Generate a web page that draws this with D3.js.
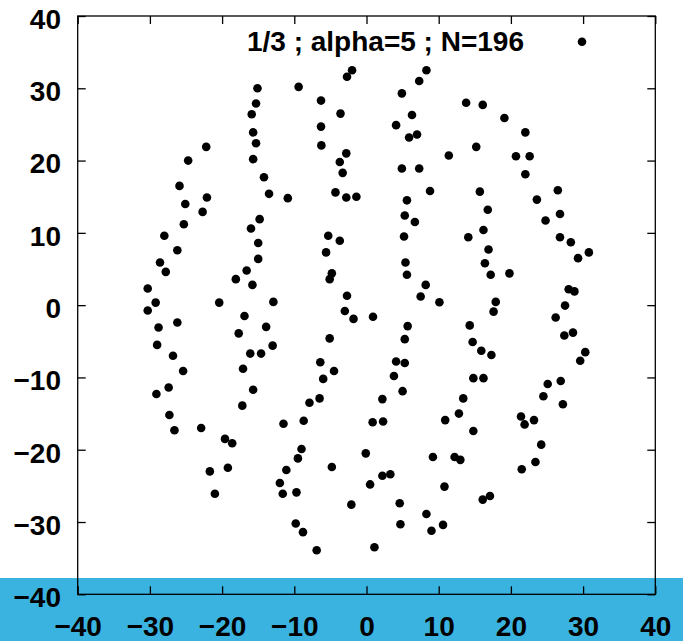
<!DOCTYPE html>
<html>
<head>
<meta charset="utf-8">
<script src="https://cdn.jsdelivr.net/npm/d3@7"></script>
<style>
  html, body { margin: 0; padding: 0; background: #ffffff; }
  svg { display: block; }
  text { font-family: "Liberation Sans", Arial, sans-serif; font-weight: bold; font-size: 28px; fill: #000; }
</style>
</head>
<body>
<svg id="chart" width="683" height="641"></svg>
<script>
// ---- data ----
const legendLabel = "1/3 ; alpha=5 ; N=196";
const xTicks = [-40, -30, -20, -10, 0, 10, 20, 30, 40];
const yTicks = [-40, -30, -20, -10, 0, 10, 20, 30, 40];
const pointsX = [
  -15.1,-15.3,-15.9,-15.7,-15.3,-15.7,-22.2,-24.7,-25.9,-22.1,
  -14.2,-13.5,-10.9,-9.4,-6.3,-6.3,-6.25,-3.6,-2.7,-2.0,
  -2.8,-3.7,-3.3,-4.3,-2.8,-1.4,4.9,7.3,8.3,6.3,
  4.1,5.9,7.0,4.9,7.3,8.8,5.6,13.8,16.1,19.1,
  22.0,11.4,15.2,20.7,22.6,22.0,15.7,26.5,23.6,
  -25.1,-22.7,-25.3,-28.0,-26.2,-28.6,-27.8,-30.3,-29.2,-30.3,
  -20.4,-28.8,-26.2,-29.0,-26.8,-25.4,-14.8,-16.0,-15.0,-15.0,
  -16.6,-18.1,-15.8,-16.9,-17.7,-16.1,-14.6,-17.1,-12.9,-13.9,
  -13.0,-5.3,-3.7,-5.6,-4.8,-5.1,-2.7,-3.0,-1.8,0.9,
  -5.1,-6.4,-4.5,-6.0,5.3,6.7,5.2,5.4,5.6,8.2,
  7.5,10.1,5.7,5.3,4.1,5.3,3.8,16.8,16.2,14.1,
  16.9,16.4,17.2,19.8,17.9,17.6,14.3,14.7,15.9,17.3,
  14.8,16.2,26.8,24.8,26.8,28.3,30.8,29.3,28.0,28.8,
  27.5,26.2,27.4,28.6,30.3,29.6,26.9,
  -29.1,-27.4,-15.7,-17.2,-27.3,-26.6,-22.9,-19.6,-18.6,-21.7,
  -19.2,-21.0,-6.5,-7.9,-11.5,-8.7,-9.0,-9.5,-11.1,-12.0,
  -11.6,-9.7,-4.8,-9.8,-8.8,-6.9,-2.1,-0.1,0.5,2.2,
  3.3,0.85,2.3,2.2,5.0,1.1,4.6,4.7,8.3,9.0,
  9.2,13.4,12.8,10.9,14.8,12.2,13.0,10.8,10.6,16.1,
  17.1,25.1,24.5,27.2,21.4,21.9,23.2,24.2,23.4,21.5
];
const pointsY = [
  30.0,27.9,26.4,23.9,22.4,20.2,21.9,20.0,16.5,14.9,
  17.7,15.4,14.8,30.2,28.3,24.7,22.1,26.5,31.6,32.5,
  21.0,19.8,18.3,15.6,14.9,15.0,29.3,31.0,32.5,26.3,
  24.9,23.2,23.6,18.9,18.9,15.8,14.5,28.0,27.7,25.9,
  23.9,20.7,21.9,20.6,20.6,18.1,15.7,15.9,14.6,
  14.0,12.9,11.2,9.6,7.6,5.9,4.6,2.3,0.35,-0.75,
  0.35,-3.1,-2.4,-5.5,-7.0,-9.1,11.9,10.6,8.6,6.4,
  4.8,3.6,2.8,-1.5,-3.9,-6.7,-6.7,-8.8,0.45,-3.0,
  -5.6,9.6,8.9,7.3,4.4,3.6,1.3,-0.8,-1.9,-1.6,
  -4.6,-7.9,-9.1,-10.2,12.4,11.5,9.5,5.9,4.2,2.8,
  1.2,0.4,-2.9,-4.7,-7.8,-8.0,-9.8,13.2,10.4,9.4,
  7.7,5.8,4.2,4.4,0.45,-0.9,-2.8,-5.1,-6.3,-6.9,
  -10.1,-10.1,12.6,11.7,9.4,8.7,7.3,6.5,2.2,1.9,
  -0.06,-1.7,-4.2,-3.8,-6.5,-7.7,-10.5,
  -12.3,-11.4,-11.7,-13.9,-15.2,-17.3,-17.0,-18.5,-19.1,-23.0,
  -22.5,-26.1,-12.9,-13.5,-16.4,-16.0,-19.9,-21.2,-22.8,-24.6,
  -26.1,-25.9,-22.4,-30.2,-31.4,-33.9,-27.6,-20.5,-24.8,-23.6,
  -23.4,-16.2,-16.1,-13.0,-11.9,-33.5,-27.4,-30.3,-28.9,-31.2,
  -21.0,-12.9,-15.0,-15.9,-17.4,-21.0,-21.4,-25.1,-30.4,-26.9,
  -26.4,-10.9,-12.6,-13.7,-15.4,-16.5,-15.9,-19.3,-21.7,-22.7
];

// ---- layout ----
const W = 683, H = 641;
const mLeft = 77.7, mRight = 655.3, mTop = 16, mBottom = 594.3;
const tickLen = 8;
const bandTop = 578;

const svg = d3.select("#chart");
const x = d3.scaleLinear().domain([-40, 40]).range([mLeft, mRight]);
const y = d3.scaleLinear().domain([-40, 40]).range([mBottom, mTop]);

svg.append("rect").attr("x", 0).attr("y", 0).attr("width", W).attr("height", H).attr("fill", "#ffffff");

// points
const pts = pointsX.map((v, i) => [v, pointsY[i]]);
svg.append("g").selectAll("circle").data(pts).join("circle")
  .attr("cx", d => x(d[0])).attr("cy", d => y(d[1]))
  .attr("r", 4.3).attr("fill", "#000");

// blue band at bottom
svg.append("rect").attr("x", 0).attr("y", bandTop).attr("width", W).attr("height", H - bandTop)
  .attr("fill", "#3bb3e0");

// axes (inward ticks, mirrored)
const axB = d3.axisBottom(x).tickValues(xTicks).tickSize(-tickLen).tickFormat(d3.format("d"));
const axT = d3.axisTop(x).tickValues(xTicks).tickSize(-tickLen).tickFormat("");
const axL = d3.axisLeft(y).tickValues(yTicks).tickSize(-tickLen).tickFormat(d3.format("d"));
const axR = d3.axisRight(y).tickValues(yTicks).tickSize(-tickLen).tickFormat("");

function style(g) {
  g.attr("font-family", null).attr("font-size", null);
  g.select(".domain").remove();
  g.selectAll(".tick line").attr("stroke", "#000").attr("stroke-width", 1.3);
}
const gB = svg.append("g").attr("transform", `translate(0,${mBottom})`).call(axB).call(style);
gB.selectAll(".tick text").attr("dy", null).attr("y", 41.4);
const gT = svg.append("g").attr("transform", `translate(0,${mTop})`).call(axT).call(style);
const gL = svg.append("g").attr("transform", `translate(${mLeft},0)`).call(axL).call(style);
gL.selectAll(".tick text").attr("dy", null).attr("x", -16.7).attr("y", 12.4).attr("text-anchor", "end");
const gR = svg.append("g").attr("transform", `translate(${mRight},0)`).call(axR).call(style);

// frame
svg.append("rect").attr("x", mLeft).attr("y", mTop).attr("width", mRight - mLeft).attr("height", mBottom - mTop)
  .attr("fill", "none").attr("stroke", "#000").attr("stroke-width", 1.3);

// legend
svg.append("text").attr("x", 524).attr("y", 51).attr("text-anchor", "end").text(legendLabel);
svg.append("circle").attr("cx", 582).attr("cy", 41.7).attr("r", 4.3).attr("fill", "#000");
</script>
</body>
</html>
